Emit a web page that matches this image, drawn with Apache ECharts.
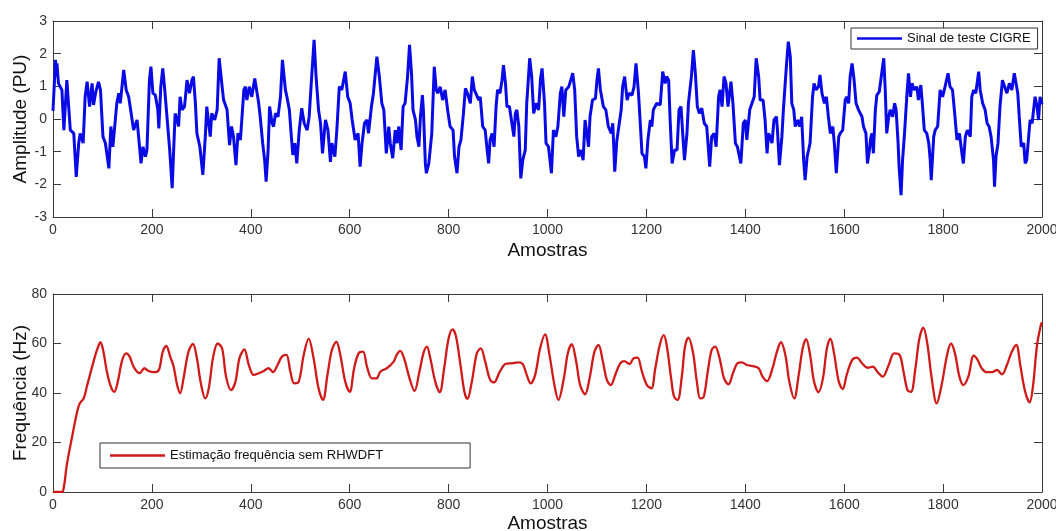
<!DOCTYPE html>
<html>
<head>
<meta charset="utf-8">
<script src="https://cdn.jsdelivr.net/npm/echarts@6/dist/echarts.min.js"></script>
<style>
html, body { margin: 0; background: #fff; }
#main { width: 1056px; height: 531px; }
</style>
</head>
<body>
<div id="main"></div>
<script>
// valores: [amostra, valor]

// sinal de teste CIGRE (PU)
const sinalCigre = [
    [0,0.25],[5,1.81],[7,1.30],[8,1.70],[11,1.09],[15,1.04],[18,0.89],[22,-0.34],[28,1.19],[35,-0.34],
    [42,-0.44],[47,-1.77],[52,-0.74],[55,-0.44],[61,-0.74],[65,0.68],[69,1.14],[74,0.38],[79,1.09],[82,0.43],
    [86,0.79],[92,1.14],[96,0.89],[101,-0.54],[106,-0.74],[113,-1.51],[117,-0.23],[121,-0.85],[126,-0.03],[129,0.48],
    [133,0.79],[136,0.48],[143,1.50],[148,0.89],[153,0.68],[156,0.38],[163,-0.34],[170,-0.03],[175,-0.85],[178,-1.36],
    [182,-0.85],[187,-1.15],[190,-0.95],[195,1.19],[198,1.60],[202,0.79],[207,0.73],[212,0.28],[214,-0.29],[218,0.99],
    [222,1.55],[226,0.89],[231,-0.03],[236,-0.95],[241,-2.12],[244,-0.95],[247,0.17],[251,-0.03],[254,-0.23],[257,0.68],
    [261,0.28],[266,0.38],[271,1.19],[276,0.79],[281,1.19],[284,1.30],[288,0.48],[291,-0.44],[297,-0.85],[303,-1.71],
    [308,-0.54],[311,0.38],[318,-0.54],[321,0.17],[327,-0.03],[332,0.28],[336,1.86],[342,0.99],[345,0.58],[348,0.58],
    [352,0.28],[357,-0.80],[361,-0.23],[365,-0.54],[370,-1.41],[374,-0.44],[379,-0.64],[386,0.89],[389,0.99],[392,0.58],
    [397,0.99],[402,0.68],[408,1.24],[412,1.30],[416,0.48],[419,0.07],[424,-0.74],[428,-1.26],[431,-1.92],[435,-0.95],
    [438,0.38],[443,-0.13],[446,-0.23],[450,0.17],[455,0.07],[460,0.68],[464,1.81],[470,0.89],[473,0.68],[478,0.28],
    [482,-0.54],[485,-1.10],[489,-0.74],[493,-1.36],[498,-0.34],[503,0.33],[508,-0.13],[514,-0.34],[518,0.07],[524,1.50],
    [528,2.42],[532,1.30],[537,0.28],[541,-0.13],[545,-1.05],[551,-0.03],[556,-0.34],[561,-1.31],[564,-0.74],[570,-1.15],
    [574,-0.34],[579,0.99],[584,0.89],[591,1.45],[596,0.68],[601,0.48],[605,-0.03],[611,-0.64],[617,-0.44],[621,-1.46],
    [625,-0.74],[630,-0.13],[635,-0.03],[638,-0.44],[644,0.38],[648,0.79],[655,1.91],[660,1.30],[665,0.48],[669,0.28],
    [674,-1.05],[679,-0.23],[682,-0.74],[687,-1.20],[692,-0.34],[696,-0.74],[699,-0.23],[704,-0.95],[708,0.38],[712,0.48],
    [717,1.30],[721,2.27],[725,1.40],[728,0.28],[733,-0.03],[736,-0.54],[740,-0.85],[743,0.07],[747,0.73],[749,0.28],
    [753,-1.36],[755,-1.66],[760,-1.36],[763,-1.31],[766,-0.44],[771,1.60],[775,0.89],[778,0.79],[783,0.99],[788,0.58],
    [793,0.89],[798,0.28],[803,-0.23],[809,-0.34],[812,-1.15],[817,-1.66],[821,-0.85],[825,-0.64],[830,0.17],[834,0.94],
    [838,0.79],[844,0.48],[848,1.30],[852,0.89],[856,0.94],[861,0.58],[864,0.68],[869,-0.23],[874,-0.34],[878,-0.95],
    [881,-1.36],[884,-0.64],[888,-0.44],[892,-0.85],[896,0.38],[899,0.89],[904,0.79],[908,1.19],[911,1.65],[915,1.09],
    [918,0.38],[923,0.38],[928,-0.13],[932,-0.54],[935,0.17],[938,0.28],[942,-0.23],[946,-1.82],[950,-1.26],[955,-0.95],
    [958,0.48],[964,1.86],[968,1.30],[972,0.17],[977,0.48],[982,0.28],[986,1.25],[989,1.55],[994,0.48],[997,-0.74],
    [1002,-0.85],[1008,-1.66],[1012,-0.34],[1017,-0.54],[1021,-0.23],[1026,0.79],[1029,0.99],[1033,0.07],[1037,0.89],[1043,0.99],
    [1047,1.19],[1051,1.40],[1055,0.89],[1059,-0.54],[1063,-1.15],[1068,-0.95],[1072,-1.26],[1076,-0.03],[1080,-0.03],[1083,-0.85],
    [1086,0.07],[1091,0.58],[1097,0.63],[1100,1.19],[1103,1.55],[1107,0.89],[1113,0.38],[1118,0.28],[1123,-0.23],[1129,-0.44],
    [1132,-0.13],[1136,-1.61],[1140,-0.69],[1144,-0.64],[1149,0.28],[1152,0.99],[1156,1.30],[1161,0.58],[1165,0.79],[1171,0.73],
    [1175,0.99],[1179,1.70],[1184,0.79],[1188,-0.23],[1191,-1.05],[1196,-1.15],[1199,-1.51],[1203,-0.64],[1208,-0.03],[1211,-0.23],
    [1214,0.28],[1221,0.48],[1228,0.43],[1233,1.45],[1238,1.09],[1241,1.30],[1245,1.19],[1248,-0.03],[1252,-1.36],[1257,-0.95],
    [1262,-0.95],[1266,0.28],[1270,0.38],[1273,-0.34],[1277,-1.26],[1282,-0.44],[1285,0.48],[1291,1.30],[1295,2.11],[1299,1.40],
    [1303,0.38],[1307,0.17],[1312,0.33],[1317,-0.13],[1322,-0.23],[1328,-1.46],[1332,-0.54],[1337,-0.44],[1341,-0.85],[1346,0.68],
    [1349,0.89],[1353,0.38],[1357,1.30],[1361,1.09],[1365,0.38],[1371,1.14],[1375,0.48],[1380,-0.74],[1384,-0.85],[1388,-0.85],
    [1391,-1.36],[1396,-0.13],[1400,-0.03],[1403,-0.64],[1409,0.28],[1413,0.33],[1418,0.68],[1422,1.86],[1427,1.30],[1430,0.58],
    [1436,0.58],[1440,-0.03],[1444,-1.05],[1447,-0.44],[1450,-0.54],[1454,-0.74],[1458,-0.03],[1463,0.07],[1465,-0.34],[1469,-1.41],
    [1474,-0.54],[1477,0.28],[1483,1.60],[1487,2.37],[1491,1.91],[1494,0.48],[1498,0.28],[1501,-0.23],[1506,-0.03],[1510,-0.23],
    [1514,0.07],[1518,-1.26],[1521,-1.87],[1525,-1.15],[1528,-0.95],[1531,-0.74],[1536,0.68],[1539,1.09],[1543,0.89],[1548,0.99],
    [1551,1.35],[1555,0.79],[1560,0.48],[1564,0.68],[1568,0.07],[1572,-0.44],[1577,-0.23],[1580,-0.74],[1584,-1.66],[1589,-0.54],
    [1592,-0.44],[1597,-0.34],[1602,0.58],[1605,0.68],[1609,0.48],[1612,1.30],[1616,1.70],[1620,1.19],[1624,0.48],[1629,0.28],
    [1636,0.07],[1639,-0.23],[1644,-0.44],[1647,-1.36],[1651,-0.95],[1653,-0.64],[1656,-0.44],[1659,-1.05],[1663,0.28],[1666,0.73],
    [1671,0.84],[1675,1.30],[1680,1.86],[1683,0.89],[1686,-0.44],[1690,0.07],[1693,0.28],[1698,0.07],[1702,0.48],[1705,0.28],
    [1709,-0.74],[1711,-1.46],[1715,-2.33],[1718,-1.26],[1722,-0.44],[1727,0.79],[1730,1.40],[1734,0.68],[1737,1.09],[1742,0.89],
    [1747,0.99],[1750,0.58],[1755,1.04],[1758,0.48],[1762,-0.34],[1767,-0.44],[1771,-0.74],[1774,-1.26],[1776,-1.87],[1781,-0.54],
    [1784,-0.34],[1789,-0.23],[1794,0.89],[1799,0.68],[1804,0.99],[1810,1.40],[1814,0.99],[1819,0.89],[1824,0.07],[1828,-0.64],
    [1833,-0.44],[1838,-1.05],[1841,-1.36],[1845,-0.54],[1849,-0.34],[1855,-0.54],[1858,0.68],[1862,0.89],[1866,0.79],[1872,1.45],
    [1875,0.89],[1880,0.48],[1885,0.28],[1889,-0.13],[1893,-0.23],[1897,-0.54],[1902,-1.26],[1904,-2.07],[1907,-1.15],[1911,-0.74],
    [1915,0.38],[1920,1.19],[1924,1.19],[1929,0.79],[1934,1.09],[1939,0.89],[1944,1.40],[1947,1.45],[1951,0.79],[1954,0.07],
    [1958,-0.85],[1963,-0.74],[1966,-1.36],[1969,-1.26],[1973,-0.54],[1976,-0.03],[1980,-0.13],[1983,0.28],[1986,0.68],[1990,0.38],
    [1993,-0.03],[1996,0.68],[2000,0.45]
];

// estimação de frequência (Hz)
const frequenciaEstimada = [
    [0,0],[18,0],[22,2],[28,11],[38,21.7],[49,32.5],[54,35.8],[62,37.8],[69,43],[82,52.7],
    [90,58],[96,60.5],[102,56.7],[109,48.6],[117,42.6],[124,40.5],[131,44.6],[140,53.3],[148,56],[155,54.7],
    [163,50.6],[175,48],[185,50],[193,48.9],[204,48.4],[214,49.3],[222,56.7],[229,59],[237,54.7],[244,50.6],
    [251,43.2],[257,39.9],[264,46],[274,56.7],[283,59.8],[291,54],[299,43.9],[308,37.8],[315,41.9],[324,54.7],
    [333,60],[342,58],[350,46.6],[360,41.2],[369,44.6],[377,54],[387,57.6],[396,51.3],[406,47.3],[416,48],
    [426,48.9],[436,50],[445,48.4],[454,51.3],[463,54.7],[472,55.4],[480,48.6],[488,43.9],[497,44.6],[507,55.4],
    [517,62],[527,54],[537,41.9],[546,37.2],[555,47.3],[564,57.4],[573,60.7],[581,55.4],[591,44.6],[600,40.5],
    [609,50],[618,56],[627,56.7],[635,50.6],[645,45.9],[654,45.9],[662,48.6],[675,50],[689,52.7],[695,55.4],
    [702,57],[710,54],[721,45.9],[731,40.8],[741,48.6],[749,56],[756,58.7],[763,54],[773,44.6],[782,40.3],
    [791,50],[800,62],[808,65.7],[815,62.8],[824,51.3],[832,40.5],[838,37.6],[847,44.6],[857,56],[865,58],
    [874,52.7],[884,45.3],[892,44.3],[903,48.4],[915,51.7],[928,52],[941,52.4],[950,51.7],[958,47.3],[966,43.9],
    [975,47.3],[985,58],[995,63.7],[1004,55.4],[1014,43.2],[1022,37.2],[1033,45.9],[1041,56],[1049,59.7],[1058,52.7],
    [1066,43.2],[1076,39.5],[1085,45.9],[1095,56.7],[1103,59.4],[1112,52.7],[1120,45.3],[1128,43.2],[1137,47.3],[1147,52],
    [1155,52.9],[1166,51.7],[1174,54],[1182,54.3],[1191,48.6],[1201,43.2],[1210,41.9],[1218,50],[1227,59.4],[1235,63.4],
    [1241,59.4],[1250,45.9],[1256,38.5],[1263,37.2],[1272,47.3],[1278,58.7],[1285,62.4],[1294,56.7],[1302,44.6],[1309,37.8],
    [1316,38.5],[1324,48.6],[1332,57.4],[1339,58.7],[1348,54],[1357,45.9],[1366,43.5],[1375,48],[1384,52],[1393,52.4],
    [1403,51.3],[1415,50.9],[1427,50],[1435,46.6],[1444,44.8],[1454,49.3],[1464,56.7],[1472,60.5],[1481,55.4],[1489,44.6],
    [1499,37.8],[1508,47.3],[1516,58],[1523,61.8],[1531,55.4],[1539,44.6],[1548,40.3],[1557,45.9],[1565,58],[1572,62],
    [1580,55.4],[1589,44.6],[1597,41.6],[1605,47.3],[1616,53.3],[1626,54.3],[1636,52],[1647,50.2],[1658,50.6],[1667,48.6],
    [1678,46.6],[1690,51.3],[1701,56],[1712,55.4],[1720,48.6],[1728,41.2],[1735,40.5],[1744,50],[1752,62],[1760,66.4],
    [1768,60],[1777,45.9],[1787,35.8],[1797,43.2],[1808,55.4],[1816,60],[1824,56],[1833,46.6],[1841,43.2],[1851,46.6],
    [1862,55.1],[1870,53.3],[1878,50],[1888,48.4],[1899,48.4],[1909,49.3],[1919,47.5],[1929,51.3],[1939,56.7],[1948,59.4],
    [1956,51.3],[1966,40.5],[1975,36.2],[1982,43.2],[1990,59.4],[1998,67.7],[2000,68.5]
];

// limites e passos dos eixos
const eixoAmostras = { min: 0, max: 2000, passo: 200 };
const eixoAmplitude = { min: -3, max: 3, passo: 1 };
const eixoFrequencia = { min: 0, max: 80, passo: 20 };

const fonteTicks = '"Liberation Sans Narrow", "Arial Narrow", "Liberation Sans", Arial, sans-serif';
const fonteTexto = '"Liberation Sans", Arial, sans-serif';
const corEixo = '#3a3a3a';

// eixo estilo MATLAB: ticks para dentro, caixa fechada
function eixo(grid, posicao, limites, comRotulo, nome, nomeGap) {
    return {
        type: 'value',
        gridIndex: grid,
        position: posicao,
        min: limites.min,
        max: limites.max,
        interval: limites.passo,
        axisLine: { show: true, onZero: false, lineStyle: { color: corEixo, width: 1 } },
        axisTick: { show: true, inside: true, length: 8, lineStyle: { color: corEixo } },
        axisLabel: {
            show: comRotulo, color: '#333', fontSize: 14, margin: 6,
            fontFamily: fonteTicks, showMinLabel: true, showMaxLabel: true,
            formatter: v => String(v)
        },
        splitLine: { show: false },
        name: nome || '',
        nameLocation: 'middle',
        nameGap: nomeGap || 0,
        nameMoveOverlap: false,
        nameTextStyle: { fontSize: 19, color: '#111', fontFamily: fonteTexto }
    };
}

const chart = echarts.init(document.getElementById('main'));

chart.setOption({
    animation: false,
    backgroundColor: '#fff',
    grid: [
        { left: 53, right: 14, top: 21, height: 196, containLabel: false, outerBoundsMode: 'none' },
        { left: 53, right: 14, top: 294, height: 198, containLabel: false, outerBoundsMode: 'none' }
    ],
    xAxis: [
        eixo(0, 'bottom', eixoAmostras, true, 'Amostras', 24),
        eixo(0, 'top', eixoAmostras, false),
        eixo(1, 'bottom', eixoAmostras, true, 'Amostras', 22),
        eixo(1, 'top', eixoAmostras, false)
    ],
    yAxis: [
        eixo(0, 'left', eixoAmplitude, true, 'Amplitude (PU)', 23),
        eixo(0, 'right', eixoAmplitude, false),
        eixo(1, 'left', eixoFrequencia, true, 'Frequência (Hz)', 23),
        eixo(1, 'right', eixoFrequencia, false)
    ],
    legend: [
        {
            data: ['Sinal de teste CIGRE'],
            left: 851, top: 28,
            padding: [4, 7, 4, 6],
            backgroundColor: '#fff',
            borderColor: '#333', borderWidth: 1, borderRadius: 0,
            icon: 'rect', itemWidth: 45, itemHeight: 2.5,
            textStyle: { fontSize: 13, color: '#111', fontFamily: fonteTexto }
        },
        {
            data: ['Estimação frequência sem RHWDFT'],
            left: 100, top: 443,
            padding: [6, 87, 6, 10],
            backgroundColor: '#fff',
            borderColor: '#333', borderWidth: 1, borderRadius: 0,
            icon: 'rect', itemWidth: 55, itemHeight: 2.5,
            textStyle: { fontSize: 13, color: '#111', fontFamily: fonteTexto }
        }
    ],
    series: [
        {
            name: 'Sinal de teste CIGRE',
            type: 'line',
            xAxisIndex: 0, yAxisIndex: 0,
            data: sinalCigre,
            showSymbol: false,
            color: '#0a0ae6',
            lineStyle: { width: 3, color: '#0a0ae6' }
        },
        {
            name: 'Estimação frequência sem RHWDFT',
            type: 'line',
            xAxisIndex: 2, yAxisIndex: 2,
            data: frequenciaEstimada,
            showSymbol: false,
            smooth: 0.35,
            color: '#d01a1a',
            lineStyle: { width: 2.3, color: '#d01a1a' }
        }
    ]
});
</script>
</body>
</html>
